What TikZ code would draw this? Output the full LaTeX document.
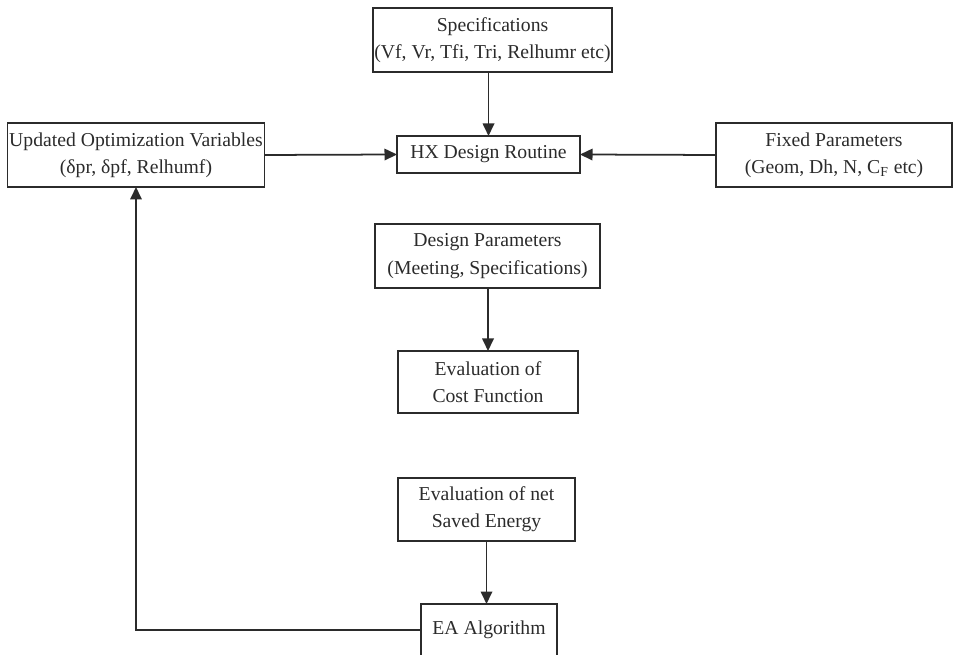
\documentclass[tikz,border=0pt]{standalone}
\usepackage{fontspec}
\setmainfont{Liberation Serif}
\usepackage{tikz}
\usetikzlibrary{arrows.meta, calc, positioning}
\definecolor{inkgray}{HTML}{2B2B2B}

\begin{document}
\begin{tikzpicture}[% styles used in image code
         > = {Triangle[length=2.5mm, width=2.3mm]}, % defined in "arrows.meta"
box/.style = {draw=inkgray, line width=1pt, text=inkgray,
              align=center, inner sep=1pt, outer sep=0pt,
              font=\fontsize{11.2}{15.5}\selectfont},
box size/.style args = {#1/#2}{minimum width=#1cm, minimum height=#2cm},
 link/.style = {draw=inkgray, line width=1pt, ->}
                        ]
	% frame of the picture
	\useasboundingbox (0,0) rectangle (19.12,13.08);

	% boxes
	\node[box, box size=4.3/1.28]  (spec)   at (9.85,12.28)
	     {Specifications\\(Vf, Vr, Tfi, Tri, Relhumr etc)};
	\node[box, box size=3.66/0.74] (hx)     at (9.77,9.99)
	     {HX Design Routine};
	\node[box, box size=5.04/1.28] (upd)    at (2.72,9.98)
	     {Updated Optimization Variables\\(δpr, δpf, Relhumf)};
	\node[box, box size=4.72/1.28] (fixed)  at (16.68,9.98)
	     {Fixed Parameters\\(Geom, Dh, N, C\textsubscript{F} etc)};
	\node[box, box size=4.5/1.28]  (design) at (9.75,7.96)
	     {Design Parameters\\(Meeting, Specifications)};
	\node[box, box size=3.6/1.24]  (cost)   at (9.76,5.44)
	     {Evaluation of\\Cost Function};
	\node[box, box size=3.54/1.26] (energy) at (9.73,2.89)
	     {Evaluation of net\\Saved Energy};
	\node[box, box size=2.72/1.04] (ea)     at (9.78,0.48)
	     {EA Algorithm};

	% connectors
	\draw[link] (spec.south -| hx) -- (hx.north);
	\draw[link] (upd.east) -- (hx.west);
	\draw[link] (fixed.west) -- (hx.east);
	\draw[link] (design.south -| cost) -- (cost.north);
	\draw[link] (energy.south) -- (ea.north -| energy);
	\draw[link] (ea.west) -| (upd.south);
\end{tikzpicture}
\end{document}
